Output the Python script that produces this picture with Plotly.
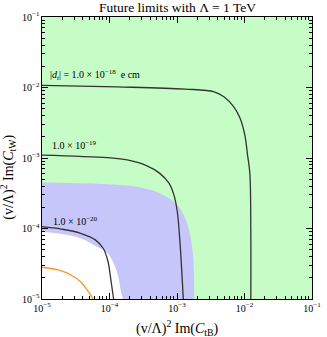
import plotly.graph_objects as go

# contour |d_t| = 1e-18 e cm  (x = Im C_tB, y = Im C_tW, times (v/Lambda)^2)
d18_x = [1e-5, 1.31e-4, 1.32e-3, 3.56e-3, 4.95e-3, 6.9e-3, 8.6e-3, 1.01e-2, 1.11e-2, 1.20e-2, 1.24e-2, 1.24e-2]
d18_y = [1.07e-2, 1.02e-2, 9.5e-3, 8.7e-3, 7.4e-3, 5.35e-3, 3.66e-3, 2.12e-3, 1.10e-3, 6.1e-4, 9.5e-5, 1e-5]

# contour |d_t| = 1e-19 e cm
d19_x = [1e-5, 9.4e-5, 1.83e-4, 3.53e-4, 5.5e-4, 7.6e-4, 9.0e-4, 1.01e-3, 1.10e-3, 1.24e-3]
d19_y = [1.10e-3, 1.01e-3, 9.4e-4, 7.8e-4, 6.1e-4, 4.4e-4, 3.0e-4, 1.73e-4, 6.9e-5, 1e-5]

# contour |d_t| = 1e-20 e cm
d20_x = [1e-5, 1.94e-5, 3.74e-5, 6.15e-5, 8.1e-5, 9.5e-5, 1.04e-4, 1.15e-4]
d20_y = [1.06e-4, 9.8e-5, 8.55e-5, 6.9e-5, 5.2e-5, 3.4e-5, 1.97e-5, 1e-5]

# orange curve
org_x = [1e-5, 1.73e-5, 2.69e-5, 3.74e-5, 4.68e-5, 5.75e-5]
org_y = [2.82e-5, 2.58e-5, 2.19e-5, 1.76e-5, 1.34e-5, 1e-5]

# blue band, outer edge
blue_x = [1e-6, 1e-5, 9.4e-5, 2.54e-4, 4.92e-4, 7.6e-4, 1.06e-3, 1.32e-3, 1.56e-3, 1.74e-3, 1.80e-3, 1.80e-3, 1e-6]
blue_y = [4.49e-4, 4.49e-4, 4.24e-4, 3.92e-4, 3.33e-4, 2.68e-4, 2.04e-4, 1.40e-4, 8.1e-5, 3.82e-5, 1e-5, 1e-6, 1e-6]

# white region, inner edge of the band
white_x = [1e-6, 1e-5, 3.74e-5, 6.5e-5, 9.0e-5, 1.12e-4, 1.33e-4, 1.48e-4, 1.57e-4, 1.57e-4, 1e-6]
white_y = [9.0e-5, 9.0e-5, 7.3e-5, 5.5e-5, 4.65e-5, 3.4e-5, 2.19e-5, 1.27e-5, 1e-5, 1e-6, 1e-6]

FONT = "Liberation Serif"
GREEN = "#c6fcc6"
BLUE = "#c6c6fa"
LINE = "#333333"
SP = "\u00a0"

fig = go.Figure()

fig.add_trace(go.Scatter(x=blue_x, y=blue_y, fill="toself", fillcolor=BLUE,
                         mode="lines", line=dict(width=0, shape="spline"),
                         hoverinfo="skip", showlegend=False))
fig.add_trace(go.Scatter(x=white_x, y=white_y, fill="toself", fillcolor="white",
                         mode="lines", line=dict(width=0, shape="spline"),
                         hoverinfo="skip", showlegend=False))

for xs, ys, col in [(d18_x, d18_y, LINE), (d19_x, d19_y, LINE),
                    (d20_x, d20_y, LINE), (org_x, org_y, "#ff9326")]:
    fig.add_trace(go.Scatter(x=xs, y=ys, mode="lines",
                             line=dict(color=col, width=1.3, shape="spline"),
                             showlegend=False))

def make_axis():
    return dict(type="log", range=[-5, -1], dtick=1, exponentformat="power",
                showexponent="all", showgrid=False, zeroline=False,
                showline=True, linecolor="black", linewidth=1, mirror="allticks",
                ticks="inside", ticklen=6, tickcolor="black", ticklabeloverflow="allow",
                minor=dict(ticks="inside", ticklen=3, tickcolor="black", showgrid=False),
                tickfont=dict(family=FONT, size=8, color="black"))

lab1 = ("|<i>d<sub>t</sub></i>|" + SP + "=" + SP + "1.0 × 10<sup>−18</sup>"
        + SP * 2 + "e cm")

fig.update_layout(
    width=327, height=337,
    margin=dict(l=42, r=6, t=17, b=38),
    plot_bgcolor=GREEN, paper_bgcolor="white",
    font=dict(family=FONT, color="black"),
    xaxis=make_axis(), yaxis=make_axis(),
    annotations=[
        dict(text="Future limits with Λ = 1 TeV", x=0.5, y=1, xref="paper", yref="paper",
             xanchor="center", yanchor="bottom", yshift=0, showarrow=False,
             font=dict(size=13.5)),
        dict(text="(v/Λ)<sup>2</sup> Im(<i>C</i><sub>tB</sub>)", x=0.5, y=0, xref="paper",
             yref="paper", xanchor="center", yanchor="top", yshift=-17, showarrow=False,
             font=dict(size=14)),
        dict(text="(v/Λ)<sup>2</sup> Im(<i>C</i><sub>tW</sub>)", x=0, y=0.43, xref="paper",
             yref="paper", xanchor="right", yanchor="middle", xshift=-22, textangle=-90,
             showarrow=False, font=dict(size=14)),
        dict(text=lab1, x=0.022, y=0.794,
             xref="paper", yref="paper", xanchor="left", yanchor="middle",
             showarrow=False, font=dict(size=10)),
        dict(text="1.0 × 10<sup>−19</sup>", x=0.029, y=0.546, xref="paper", yref="paper",
             xanchor="left", yanchor="middle", showarrow=False, font=dict(size=10)),
        dict(text="1.0 × 10<sup>−20</sup>", x=0.032, y=0.277, xref="paper", yref="paper",
             xanchor="left", yanchor="middle", showarrow=False, font=dict(size=10)),
    ],
)

fig.write_html("out.html", config={"displayModeBar": False},
               post_script="document.body.style.margin='0';"
                           "document.body.style.overflow='hidden';")
